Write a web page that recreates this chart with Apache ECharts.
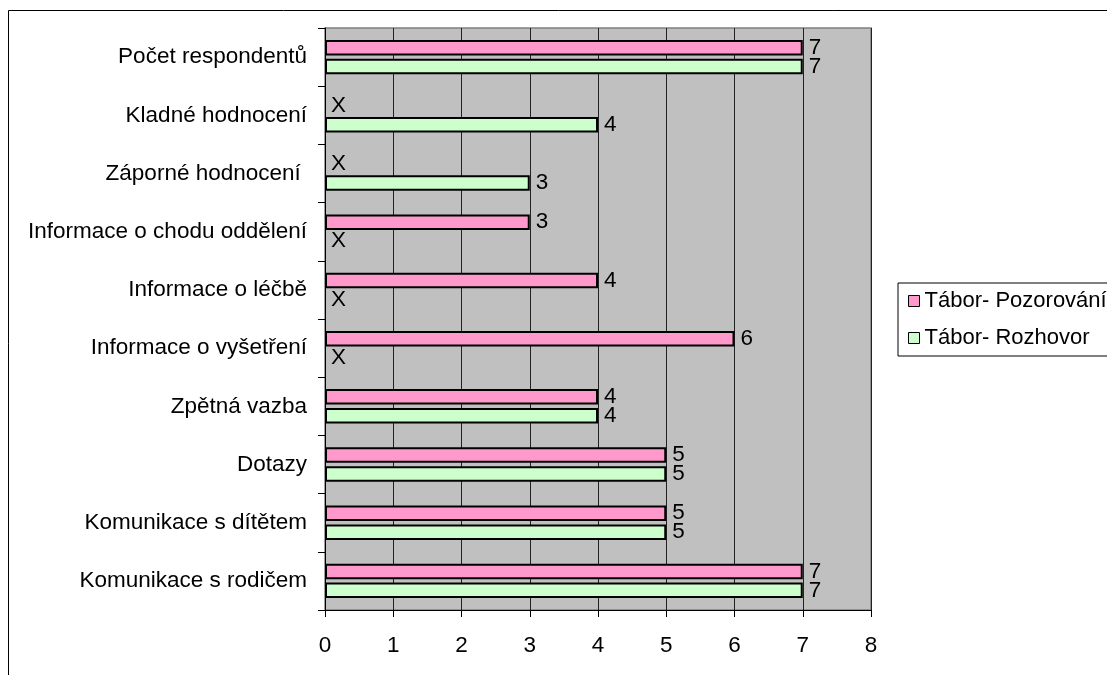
<!DOCTYPE html>
<html>
<head>
<meta charset="utf-8">
<script src="https://cdn.jsdelivr.net/npm/echarts@6/dist/echarts.min.js"></script>
<style>
  html, body { margin: 0; padding: 0; background: #ffffff; }
  #chart { width: 1107px; height: 675px; }
</style>
</head>
<body>
<div id="chart"></div>
<script>
// Categories listed from the bottom of the axis to the top
const categories = [
  'Komunikace s rodičem',
  'Komunikace s dítětem',
  'Dotazy',
  'Zpětná vazba',
  'Informace o vyšetření',
  'Informace o léčbě',
  'Informace o chodu oddělení',
  'Záporné hodnocení ',
  'Kladné hodnocení',
  'Počet respondentů'
];
// null = not recorded, shown as "X"
const pozorovani = [7, 5, 5, 4, 6, 4, 3, null, null, 7];
const rozhovor   = [7, 5, 5, 4, null, null, null, 3, 4, 7];
const xTicks = [0, 1, 2, 3, 4, 5, 6, 7, 8];

const seriesNames = ['Tábor- Pozorování', 'Tábor- Rozhovor'];
const seriesColors = ['#FF99CC', '#CCFFCC'];

const FONT = 'Liberation Sans, Arial, sans-serif';
const FS = 22.5;

function buildData(values) {
  return values.map(v => v === null
    ? { value: 0, itemStyle: { color: 'transparent', borderWidth: 0 }, label: { formatter: 'X' } }
    : { value: v });
}

function makeSeries(name, values, color) {
  return {
    name: name,
    type: 'bar',
    data: buildData(values),
    barWidth: 15.5,
    barGap: '22%',
    itemStyle: { color: color, borderColor: '#000', borderWidth: 2 },
    label: {
      show: true,
      position: 'right',
      distance: 6,
      color: '#000',
      fontFamily: FONT,
      fontSize: FS
    },
    emphasis: { disabled: true },
    animation: false
  };
}

const chart = echarts.init(document.getElementById('chart'), null, { renderer: 'canvas' });
chart.setOption({
  backgroundColor: '#ffffff',
  animation: false,
  textStyle: { fontFamily: FONT },
  graphic: [{
    type: 'rect',
    shape: { x: 8.5, y: 10.5, width: 1200, height: 800 },
    style: { fill: 'none', stroke: '#000', lineWidth: 1 },
    silent: true
  }],
  grid: {
    left: 325, right: 236, top: 28, bottom: 65,
    show: true,
    backgroundColor: '#C0C0C0',
    borderColor: '#808080',
    borderWidth: 1.5
  },
  legend: {
    orient: 'vertical',
    left: 898,
    top: 283,
    data: seriesNames,
    icon: 'rect',
    itemWidth: 11,
    itemHeight: 11,
    itemGap: 15,
    itemStyle: { borderColor: '#000', borderWidth: 1 },
    padding: [7, 200, 7, 10],
    borderColor: '#000',
    borderWidth: 1,
    textStyle: { color: '#000', fontFamily: FONT, fontSize: 22 },
    selectedMode: false
  },
  xAxis: {
    type: 'value',
    min: xTicks[0],
    max: xTicks[xTicks.length - 1],
    interval: 1,
    axisLine: { show: true, lineStyle: { color: '#000', width: 1 } },
    axisTick: { show: true, length: 7, lineStyle: { color: '#000' } },
    axisLabel: { color: '#000', fontFamily: FONT, fontSize: FS, margin: 24 },
    splitLine: { show: true, lineStyle: { color: '#222', width: 1 } }
  },
  yAxis: {
    type: 'category',
    data: categories,
    axisLine: { show: true, lineStyle: { color: '#000', width: 1 } },
    axisTick: { show: true, length: 7, alignWithLabel: false, lineStyle: { color: '#000' } },
    axisLabel: { color: '#000', fontFamily: FONT, fontSize: FS, margin: 18 },
    splitLine: { show: false }
  },
  series: [
    makeSeries(seriesNames[0], pozorovani, seriesColors[0]),
    makeSeries(seriesNames[1], rozhovor, seriesColors[1])
  ]
});
</script>
</body>
</html>
